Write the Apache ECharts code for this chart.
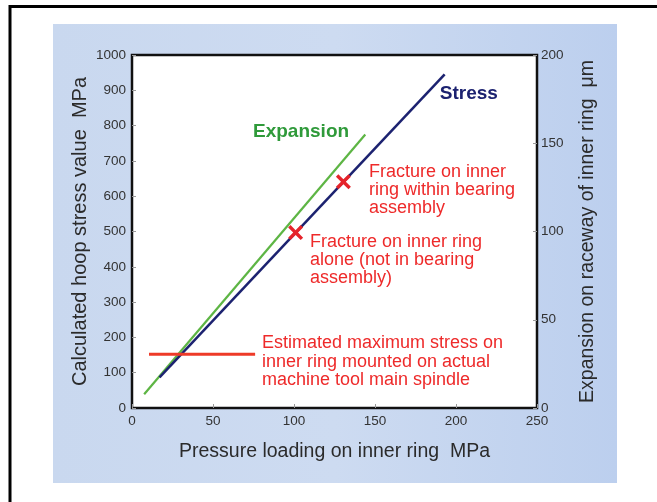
<!DOCTYPE html>
<html>
<head>
<meta charset="utf-8">
<script src="https://cdn.jsdelivr.net/npm/echarts@6/dist/echarts.min.js"></script>
<style>
  html, body { margin: 0; padding: 0; background: #fff; }
  #chart { width: 657px; height: 502px; }
</style>
</head>
<body>
<div id="chart"></div>
<script>
// values (x: pressure MPa)
const stressX = [17, 193];
const stressY = [87, 945];          // MPa, left axis
const expansionX = [7.5, 144];
const expansionY = [7.8, 155];      // um, right axis
const estMaxX = [10.5, 76];
const estMaxY = [152, 152];
const fracturePoints = [[101, 497], [130.5, 641]];

const xTicks = [0, 50, 100, 150, 200, 250];
const leftTicks = [0, 100, 200, 300, 400, 500, 600, 700, 800, 900, 1000];
const rightTicks = [0, 50, 100, 150, 200];

// annotation anchors in data coords (pressure, stress)
const noteText = [
  "Fracture on inner\nring within bearing\nassembly",
  "Fracture on inner ring\nalone (not in bearing\nassembly)",
  "Estimated maximum stress on\ninner ring mounted on actual\nmachine tool main spindle"
];
const noteAt = [[146.3, 695], [109.9, 497], [80.2, 209]];
const seriesNames = ["Stress", "Expansion"];
const seriesNameAt = [[190, 891], [74.7, 783]];

const FONT = "'Liberation Sans', Arial, Helvetica, sans-serif";
const RED = "#ee2a2a";
const NAVY = "#1c2270";
const GREEN = "#5db544";

const chart = echarts.init(document.getElementById("chart"));

const xMark = "path://M0,1.6L1.6,0L5,3.4L8.4,0L10,1.6L6.6,5L10,8.4L8.4,10L5,6.6L1.6,10L0,8.4L3.4,5Z";

chart.setOption({
  animation: false,
  backgroundColor: "#fff",
  graphic: [
    {
      type: "rect", z: -10, silent: true,
      shape: { x: 53, y: 24, width: 564, height: 459 },
      style: {
        fill: new echarts.graphic.LinearGradient(0, 0, 1, 0, [
          { offset: 0, color: "#c9d8ef" },
          { offset: 0.5, color: "#cddbf1" },
          { offset: 1, color: "#bccfee" }
        ])
      }
    },
    { type: "line", z: -10, silent: true, shape: { x1: 10, y1: 6.5, x2: 657, y2: 6.5 }, style: { stroke: "#000", lineWidth: 3 } },
    { type: "line", z: -10, silent: true, shape: { x1: 10, y1: 5, x2: 10, y2: 502 }, style: { stroke: "#000", lineWidth: 3 } }
  ],
  grid: {
    left: 132, right: 120, top: 55, bottom: 94,
    show: true, backgroundColor: "#fff", borderColor: "#111", borderWidth: 2.5
  },
  xAxis: {
    type: "value", min: xTicks[0], max: xTicks[xTicks.length - 1], interval: 50,
    name: "Pressure loading on inner ring  MPa",
    nameLocation: "middle", nameGap: 34,
    nameTextStyle: { fontFamily: FONT, fontSize: 19.5, color: "#2b2b2b" },
    axisLine: { show: false },
    axisTick: { show: true, inside: true, length: 4, lineStyle: { color: "#9a9a9a" } },
    axisLabel: { fontFamily: FONT, fontSize: 13.5, color: "#333", margin: 6 },
    splitLine: { show: false }
  },
  yAxis: [
    {
      type: "value", min: leftTicks[0], max: leftTicks[leftTicks.length - 1], interval: 100,
      name: "Calculated hoop stress value  MPa",
      nameLocation: "middle", nameGap: 42, nameMoveOverlap: false,
      nameTextStyle: { fontFamily: FONT, fontSize: 20, color: "#2b2b2b" },
      axisLine: { show: false },
      axisTick: { show: true, inside: true, length: 4, lineStyle: { color: "#9a9a9a" } },
      axisLabel: { fontFamily: FONT, fontSize: 13.5, color: "#333", margin: 6, formatter: v => String(v) },
      splitLine: { show: false }
    },
    {
      type: "value", position: "right",
      min: rightTicks[0], max: rightTicks[rightTicks.length - 1], interval: 50,
      name: "Expansion on raceway of inner ring  \u03bcm",
      nameLocation: "middle", nameGap: 41,
      nameTextStyle: { fontFamily: FONT, fontSize: 19.5, color: "#2b2b2b" },
      axisLine: { show: false },
      axisTick: { show: true, inside: true, length: 4, lineStyle: { color: "#9a9a9a" } },
      axisLabel: { fontFamily: FONT, fontSize: 13.5, color: "#333", margin: 4 },
      splitLine: { show: false }
    }
  ],
  series: [
    {
      name: "Expansion", type: "line", yAxisIndex: 1, showSymbol: false, z: 3,
      data: expansionX.map((x, i) => [x, expansionY[i]]),
      lineStyle: { color: GREEN, width: 2.2 }
    },
    {
      name: "Stress", type: "line", yAxisIndex: 0, showSymbol: false, z: 4,
      data: stressX.map((x, i) => [x, stressY[i]]),
      lineStyle: { color: NAVY, width: 2.5 }
    },
    {
      name: "Estimated max", type: "line", yAxisIndex: 0, showSymbol: false, z: 5,
      data: estMaxX.map((x, i) => [x, estMaxY[i]]),
      lineStyle: { color: "#ee3a28", width: 3 }
    },
    {
      name: "Fracture", type: "scatter", yAxisIndex: 0, z: 6,
      symbol: xMark, symbolSize: 15,
      itemStyle: { color: "#e5232a", opacity: 1 },
      data: fracturePoints
    },
    {
      name: "Notes", type: "scatter", yAxisIndex: 0, z: 7, symbolSize: 0, silent: true,
      itemStyle: { opacity: 1 },
      data: noteAt.map((p, i) => ({ value: p, label: { formatter: noteText[i] } })),
      label: {
        show: true, position: [0, 0], align: "left", verticalAlign: "top",
        fontFamily: FONT, fontSize: 18, lineHeight: 18.3, color: RED
      }
    },
    {
      name: "Series names", type: "scatter", yAxisIndex: 0, z: 7, symbolSize: 0, silent: true,
      itemStyle: { opacity: 1 },
      data: seriesNameAt.map((p, i) => ({
        value: p,
        label: { formatter: seriesNames[i], color: i === 0 ? NAVY : "#2f9a3a" }
      })),
      label: {
        show: true, position: [0, 0], align: "left", verticalAlign: "middle",
        fontFamily: FONT, fontSize: 19, fontWeight: "bold"
      }
    }
  ]
});
</script>
</body>
</html>
